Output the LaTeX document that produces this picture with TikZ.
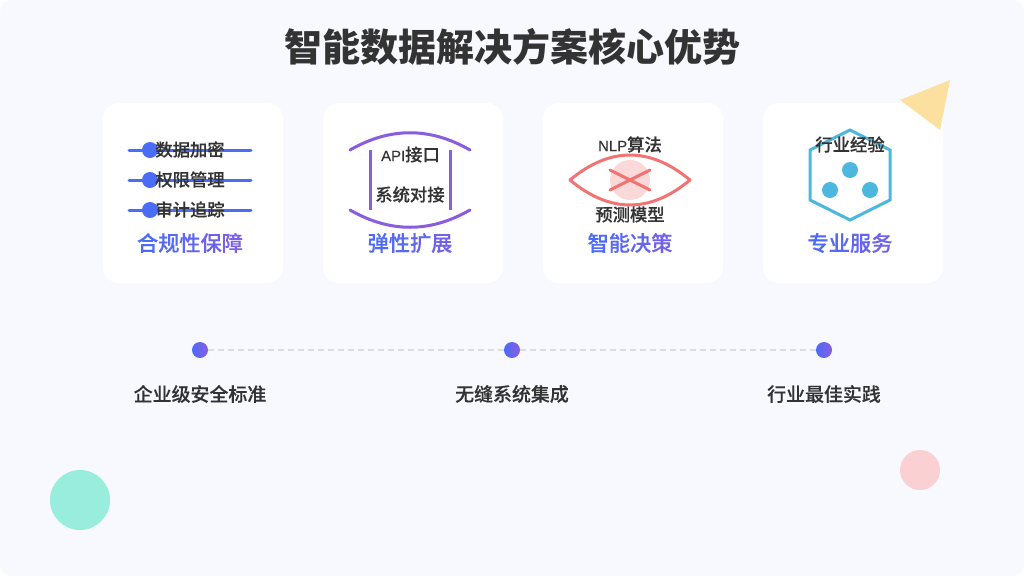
\documentclass[tikz,border=0pt]{standalone}
\usepackage{fontspec}
\setmainfont{Noto Sans CJK SC}
\newfontfamily\midcjk[FakeBold=0.2]{Noto Sans CJK SC Medium}
\newfontfamily\latinmid[FakeBold=0.2,Scale=0.86]{Liberation Sans}
\usetikzlibrary{shapes.geometric}
\definecolor{pagebg}{HTML}{F8F9FF}
\definecolor{inktext}{HTML}{333333}
\definecolor{bluea}{HTML}{4A6CF7}
\definecolor{purplea}{HTML}{8A5CE0}
\definecolor{reda}{HTML}{F27373}
\definecolor{skya}{HTML}{4DB8DE}
\definecolor{goldtri}{HTML}{FCE0A0}
\definecolor{mintc}{HTML}{98EDDC}
\definecolor{pinkc}{HTML}{FAD0D3}
\definecolor{dashc}{HTML}{DADBE3}
\newcommand{\gradfive}[5]{\textcolor{bluea!100!purplea}{#1}\textcolor{bluea!85!purplea}{#2}\textcolor{bluea!65!purplea}{#3}\textcolor{bluea!45!purplea}{#4}\textcolor{bluea!25!purplea}{#5}}
\newcommand{\gradfour}[4]{\textcolor{bluea!95!purplea}{#1}\textcolor{bluea!78!purplea}{#2}\textcolor{bluea!60!purplea}{#3}\textcolor{bluea!40!purplea}{#4}}
\tikzset{
	card/.style={fill=white,rounded corners=12pt,minimum size=135pt,inner sep=0pt},
	itemtext/.style={text=inktext,font=\fontsize{13pt}{15pt}\midcjk,inner sep=0pt},
	cardtitle/.style={font=\fontsize{15.9pt}{18pt}\midcjk,inner sep=0pt},
	marktext/.style={text=inktext,font=\fontsize{14.2pt}{17pt}\midcjk,inner sep=0pt},
	markdot/.style={circle,left color=bluea,right color=purplea,minimum size=12pt,inner sep=0pt},
	iconline/.style={line width=2.25pt,line cap=round}
}
\begin{document}
\begin{tikzpicture}[x=0.75pt,y=-0.75pt]
	\path[fill=pagebg,rounded corners=9pt] (0,0) rectangle (1024,576);
	\useasboundingbox (0,0) rectangle (1024,576);
	\node[text=inktext,font=\fontsize{28.5pt}{34pt}\selectfont\bfseries,inner sep=0pt] (title) at (512,47) {智能数据解决方案核心优势};
	\foreach \X [count=\Z] in {193,413,633,853}
	{\node[card] (card\Z) at (\X,193) {};}
	\fill[goldtri] (900,100) -- (950,80) -- (940,130) -- cycle;
	\fill[mintc] (80,500) circle (30);
	\fill[pinkc] (920,470) circle (20);
	% first card
	\foreach \Y/\T [count=\Z] in {150/数据加密,180/权限管理,210/审计追踪}
	{\draw[iconline,bluea] (129,\Y) -- (251,\Y);
	\fill[bluea] (150,\Y) circle (8);
	\node[itemtext] (safe\Z) at (190,\Y-0.5) {\T};}
	\node[cardtitle] (name1) at (190,243) {\gradfive{合}{规}{性}{保}{障}};
	% second card
	\draw[iconline,purplea] (350,150) .. controls (390,127) and (430,127) .. (470,150);
	\draw[iconline,purplea] (350,210) .. controls (390,233) and (430,233) .. (470,210);
	\draw[iconline,purplea,line cap=butt] (370,150) -- (370,210);
	\draw[iconline,purplea,line cap=butt] (450,150) -- (450,210);
	\node[itemtext] (flex1) at (410.5,154.5) {{\latinmid API}接口};
	\node[itemtext] (flex2) at (410,194.5) {系统对接};
	\node[cardtitle] (name2) at (410,243) {\gradfour{弹}{性}{扩}{展}};
	% third card
	\fill[reda!27] (630,180) circle (20);
	\draw[iconline,reda,line join=round] (570,180) .. controls (610,146.7) and (650,146.7) .. (690,180) .. controls (650,213.3) and (610,213.3) .. (570,180) -- cycle;
	\draw[iconline,reda] (610,170) -- (650,190);
	\draw[iconline,reda] (610,190) -- (650,170);
	\node[itemtext] (algo1) at (630,144.5) {{\latinmid NLP}算法};
	\node[itemtext] (algo2) at (630,214.5) {预测模型};
	\node[cardtitle] (name3) at (630,243) {\gradfour{智}{能}{决}{策}};
	% fourth card
	\draw[iconline,skya,line cap=butt,line join=miter] (850,130) -- (890,150) -- (890,200) -- (850,220) -- (810,200) -- (810,150) -- cycle;
	\foreach \X/\Y in {850/170,830/190,870/190}
	{\fill[skya] (\X,\Y) circle (8);}
	\node[itemtext] (serv1) at (850,144.5) {行业经验};
	\node[cardtitle] (name4) at (850,243) {\gradfour{专}{业}{服}{务}};
	% marks below the cards
	\foreach \X/\T [count=\Z] in {200/企业级安全标准,512/无缝系统集成,824/行业最佳实践}
	{\node[markdot] (mark\Z) at (\X,350) {};
	\node[marktext] (marktext\Z) at (\X,394) {\T};}
	\draw[dashc,line width=1.5pt,dash pattern=on 4.5pt off 3pt] (mark1) -- (mark2);
	\draw[dashc,line width=1.5pt,dash pattern=on 4.5pt off 3pt] (mark2) -- (mark3);
\end{tikzpicture}
\end{document}
